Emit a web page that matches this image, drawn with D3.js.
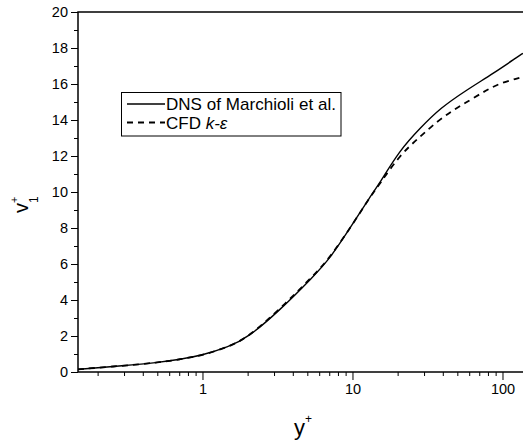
<!DOCTYPE html>
<html>
<head>
<meta charset="utf-8">
<script src="https://cdn.jsdelivr.net/npm/d3@7"></script>
<style>
  body { margin: 0; background: #fff; }
  text { font-family: "Liberation Sans", Arial, sans-serif; }
</style>
</head>
<body>
<div id="chart"></div>
<script>
"use strict";

// data
var dnsY = [0.148, 0.3, 0.5, 0.708, 1, 1.5, 2, 3.29, 5.48, 7.08, 10, 13.1, 15.2, 20.7, 28.2, 38.3, 57.7, 86.9, 130.9, 137];
var dnsV = [0.15, 0.35, 0.52, 0.70, 0.93, 1.4, 1.9, 3.44, 5.3, 6.3, 8.2, 9.74, 10.5, 12.33, 13.54, 14.65, 15.67, 16.59, 17.6, 17.7];
var cfdY = [0.148, 0.3, 0.5, 0.708, 1, 1.5, 2, 3.29, 5.48, 7.08, 10, 13.1, 15.2, 20.7, 28.2, 36.4, 47, 60.7, 78.5, 96.2, 124.4, 137];
var cfdV = [0.15, 0.35, 0.52, 0.70, 0.93, 1.4, 1.92, 3.5, 5.35, 6.35, 8.2, 9.72, 10.45, 12.06, 13.07, 13.9, 14.56, 15.1, 15.67, 16.04, 16.3, 16.4];
var yTicks = [0, 2, 4, 6, 8, 10, 12, 14, 16, 18, 20];
var xTicks = [1, 10, 100];

var width = 523, height = 444;
var margin = {top: 12, right: 0, bottom: 72, left: 78};

var svg = d3.select("#chart")
  .append("svg")
    .attr("width", width)
    .attr("height", height);

var x = d3.scaleLog()
  .domain([0.148, 137])
  .range([margin.left, width - margin.right]);

var y = d3.scaleLinear()
  .domain([0, 20])
  .range([height - margin.bottom, margin.top]);

// minor ticks on the log axis
var xMinor = [];
[0.1, 1, 10, 100].forEach(function(d) {
  for (var k = 2; k <= 9; k++) {
    var v = d * k;
    if (v >= 0.148 && v <= 137) xMinor.push(v);
  }
});
var yMinor = d3.range(1, 20, 2);

// x axis
var gx = svg.append("g")
  .attr("transform", "translate(0," + y(0) + ")")
  .call(d3.axisBottom(x).tickValues(xMinor).tickSize(4).tickFormat(""));
gx.select(".domain").remove();
var gx2 = svg.append("g")
  .attr("transform", "translate(0," + y(0) + ")")
  .call(d3.axisBottom(x).tickValues(xTicks).tickSize(8).tickPadding(4).tickFormat(d3.format("d")));
gx2.select(".domain").remove();
gx2.selectAll("text").attr("font-size", 14.5).attr("fill", "#000");

// y axis
var gy = svg.append("g")
  .attr("transform", "translate(" + margin.left + ",0)")
  .call(d3.axisLeft(y).tickValues(yMinor).tickSize(4).tickFormat(""));
gy.select(".domain").remove();
var gy2 = svg.append("g")
  .attr("transform", "translate(" + margin.left + ",0)")
  .call(d3.axisLeft(y).tickValues(yTicks).tickSize(7).tickPadding(3));
gy2.select(".domain").remove();
gy2.selectAll("text").attr("font-size", 14.5).attr("fill", "#000");

svg.selectAll(".tick line").attr("stroke", "#000").attr("stroke-width", 1);

// frame
svg.append("rect")
  .attr("x", margin.left)
  .attr("y", margin.top)
  .attr("width", width - margin.left + 2)
  .attr("height", y(0) - margin.top)
  .attr("fill", "none")
  .attr("stroke", "#000")
  .attr("stroke-width", 1.5);

// curves
var dns = dnsY.map(function(d, i) { return {x: d, v: dnsV[i]}; });
var cfd = cfdY.map(function(d, i) { return {x: d, v: cfdV[i]}; });

var line = d3.line()
  .curve(d3.curveBasis)
  .x(function(d) { return x(d.x); })
  .y(function(d) { return y(d.v); });

svg.append("path")
  .datum(cfd)
  .attr("fill", "none")
  .attr("stroke", "#000")
  .attr("stroke-width", 1.8)
  .attr("stroke-dasharray", "6,5")
  .attr("d", line);

svg.append("path")
  .datum(dns)
  .attr("fill", "none")
  .attr("stroke", "#000")
  .attr("stroke-width", 1.4)
  .attr("d", line);

// legend
var leg = svg.append("g");
leg.append("rect")
  .attr("x", 121.5).attr("y", 92.5)
  .attr("width", 219.5).attr("height", 43.5)
  .attr("fill", "#fff").attr("stroke", "#000").attr("stroke-width", 1);
leg.append("line")
  .attr("x1", 127).attr("x2", 165).attr("y1", 104).attr("y2", 104)
  .attr("stroke", "#000").attr("stroke-width", 1.4);
leg.append("line")
  .attr("x1", 127).attr("x2", 165).attr("y1", 122.5).attr("y2", 122.5)
  .attr("stroke", "#000").attr("stroke-width", 1.8).attr("stroke-dasharray", "6,5");
leg.append("text")
  .attr("x", 166).attr("y", 110)
  .attr("font-size", 17)
  .attr("textLength", 170)
  .text("DNS of Marchioli et al.");
var t2 = leg.append("text")
  .attr("x", 166).attr("y", 128.5)
  .attr("font-size", 17);
t2.append("tspan").text("CFD ");
t2.append("tspan").attr("font-style", "italic").text("k-ε");

// axis titles
var xt = svg.append("text")
  .attr("x", 294).attr("y", 434.5)
  .attr("text-anchor", "start")
  .attr("font-size", 22);
xt.append("tspan").text("y");
xt.append("tspan").attr("font-size", 12).attr("dy", -11.5).text("+");

var yt = svg.append("text")
  .attr("transform", "translate(28,213) rotate(-90)")
  .attr("text-anchor", "start")
  .attr("font-size", 20);
yt.append("tspan").text("v");
yt.append("tspan").attr("font-size", 12).attr("dy", 10).text("1");
yt.append("tspan").attr("font-size", 11).attr("dx", -6.7).attr("dy", -20.4).text("+");
</script>
</body>
</html>
